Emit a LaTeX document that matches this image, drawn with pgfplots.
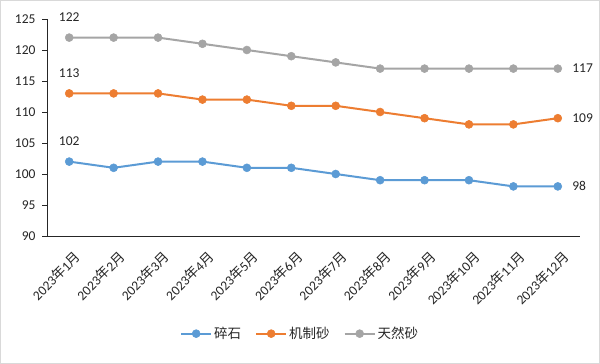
\documentclass[border=0pt]{standalone}
\usepackage{fontspec}
\setmainfont{Carlito}
\newfontfamily\cjk{Noto Sans CJK SC}
\usepackage{pgfplots}
\pgfplotsset{compat=1.18}
\definecolor{cblue}{HTML}{5B9BD5}
\definecolor{corange}{HTML}{ED7D31}
\definecolor{cgray}{HTML}{A5A5A5}
\definecolor{ctext}{HTML}{262626}
\begin{document}
\begin{tikzpicture}[x=1pt,y=1pt]
\draw[color=black!15, fill=white, line width=1pt] (0.5,0.5) rectangle (599.5,363.5);
\begin{axis}[
  at={(47pt,128pt)}, anchor=south west,
  scale only axis, width=533pt, height=217pt,
  xmin=0.5, xmax=12.5, ymin=90, ymax=125,
  ytick={90,95,...,125},
  xtick={1,...,12},
  xticklabels={2023{\cjk 年}1{\cjk 月},2023{\cjk 年}2{\cjk 月},2023{\cjk 年}3{\cjk 月},2023{\cjk 年}4{\cjk 月},2023{\cjk 年}5{\cjk 月},2023{\cjk 年}6{\cjk 月},2023{\cjk 年}7{\cjk 月},2023{\cjk 年}8{\cjk 月},2023{\cjk 年}9{\cjk 月},2023{\cjk 年}10{\cjk 月},2023{\cjk 年}11{\cjk 月},2023{\cjk 年}12{\cjk 月}},
  extra x ticks={0.5,1.5,...,12.5},
  extra x tick labels={},
  extra x tick style={major tick length=5pt, tick style={black!85, line width=0.8pt}},
  axis x line*=bottom, axis y line*=left,
  axis line style={black!85, line width=0.8pt, -},
  x tick style={draw=none},
  y tick style={black!85, line width=0.8pt},
  tick align=outside, major tick length=5pt,
  x tick label style={rotate=45, anchor=north east, font=\fontsize{13.5}{16}\selectfont, text=ctext, inner sep=1pt, xshift=-2pt, yshift=-8pt},
  y tick label style={font=\fontsize{13.5}{16}\selectfont, text=ctext, xshift=-3pt},
  /pgf/number format/assume math mode=true,
  clip=false,
  legend style={at={(0.475,-0.45)}, anchor=center, draw=none, fill=none,
    legend columns=-1, font=\cjk\fontsize{13.5}{16}\selectfont, text=ctext,
    /tikz/every even column/.append style={column sep=12pt}},
  legend image code/.code={\draw[mark repeat=2,mark phase=2] plot coordinates {(0pt,0pt)(15pt,0pt)(30pt,0pt)};},
  every axis plot/.append style={line width=2pt, mark=*, mark size=4pt},
]
\addplot[color=cblue, mark options={fill=cblue, draw=cblue, line width=0.5pt}] coordinates {
(1,102)(2,101)(3,102)(4,102)(5,101)(6,101)(7,100)(8,99)(9,99)(10,99)(11,98)(12,98)};
\addlegendentry{碎石}
\addplot[color=corange, mark options={fill=corange, draw=corange, line width=0.5pt}] coordinates {
(1,113)(2,113)(3,113)(4,112)(5,112)(6,111)(7,111)(8,110)(9,109)(10,108)(11,108)(12,109)};
\addlegendentry{机制砂}
\addplot[color=cgray, mark options={fill=cgray, draw=cgray, line width=0.5pt}] coordinates {
(1,122)(2,122)(3,122)(4,121)(5,120)(6,119)(7,118)(8,117)(9,117)(10,117)(11,117)(12,117)};
\addlegendentry{天然砂}
\begin{scope}[every node/.style={font=\fontsize{13.5}{16}\selectfont, text=ctext}]
\node[anchor=center, yshift=20pt] at (axis cs:1,122) {122};
\node[anchor=center, yshift=20pt] at (axis cs:1,113) {113};
\node[anchor=center, yshift=20pt] at (axis cs:1,102) {102};
\node[anchor=west, xshift=11pt] at (axis cs:12,117) {117};
\node[anchor=west, xshift=11pt] at (axis cs:12,109) {109};
\node[anchor=west, xshift=11pt] at (axis cs:12,98) {98};
\end{scope}
\end{axis}
\end{tikzpicture}
\end{document}
